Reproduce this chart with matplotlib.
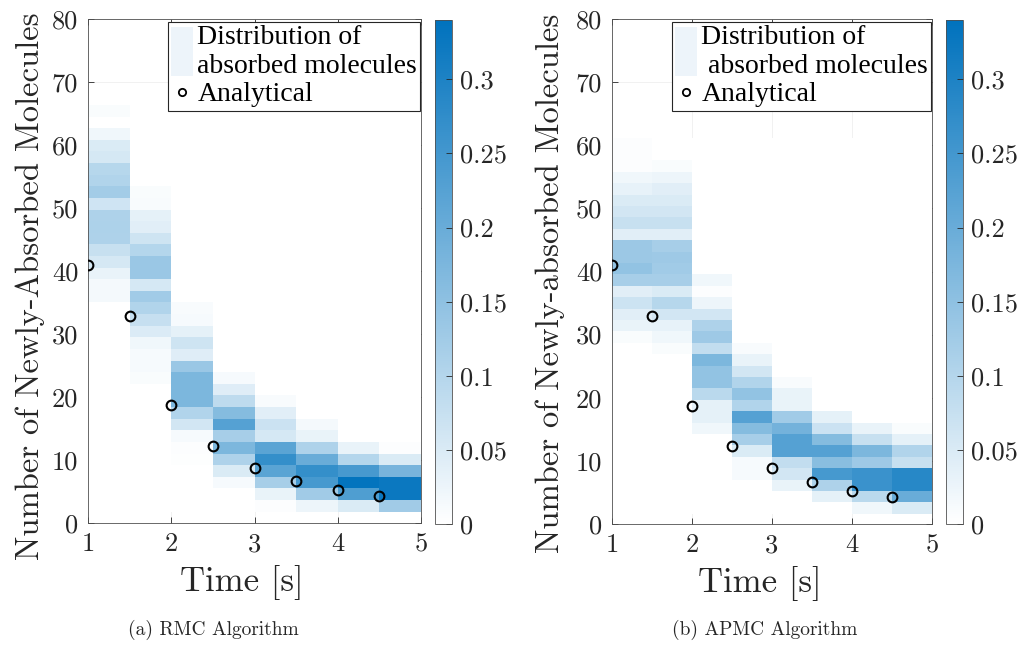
import numpy as np
import matplotlib.pyplot as plt
from matplotlib.colors import LinearSegmentedColormap
from matplotlib.lines import Line2D
from matplotlib.patches import Patch, Rectangle
from matplotlib.legend_handler import HandlerPatch

plt.rcParams['font.family'] = 'cmr10'
plt.rcParams['axes.formatter.use_mathtext'] = True

time_edges = [1.0, 1.5, 2.0, 2.5, 3.0, 3.5, 4.0, 4.5, 5.0]
analytical_t = [1.0, 1.5, 2.0, 2.5, 3.0, 3.5, 4.0, 4.5]
analytical_n = [41.0, 32.9, 18.7, 12.3, 8.8, 6.6, 5.3, 4.35]

# RMC: histogram of absorbed molecules per time slot, bins listed top -> bottom
rmc_top_edge = 66.35
rmc_bin_height = 1.844
rmc_n_bins = 35
rmc_first_bin = [0, 7, 17, 23, 25, 27, 29, 29]
rmc_probs = [
    [0.008, 0, 0.02, 0.05, 0.057, 0.097, 0.104, 0.123, 0.065, 0.108, 0.11,
     0.108, 0.075, 0.056, 0.03, 0.015, 0.015],
    [0.008, 0.01, 0.035, 0.04, 0.066, 0.10, 0.135, 0.135, 0.056, 0.126,
     0.104, 0.077, 0.048, 0.02, 0.012, 0.012, 0.008],
    [0.01, 0.012, 0.035, 0.066, 0.043, 0.135, 0.174, 0.174, 0.174, 0.104,
     0.06, 0.012, 0.005, 0.003],
    [0.012, 0.043, 0.087, 0.163, 0.226, 0.118, 0.175, 0.108, 0.05, 0.012],
    [0.01, 0.04, 0.07, 0.056, 0.22, 0.27, 0.22, 0.118, 0.03, 0.004],
    [0.015, 0.03, 0.108, 0.2, 0.27, 0.247, 0.126, 0.025],
    [0.03, 0.1, 0.245, 0.335, 0.235, 0.05],
    [0.005, 0.05, 0.18, 0.325, 0.325, 0.126],
]

# APMC: same layout
apmc_top_edge = 61.2
apmc_bin_height = 1.806
apmc_n_bins = 33
apmc_first_bin = [0, 2, 12, 18, 21, 24, 25, 25]
apmc_probs = [
    [0.005, 0.005, 0.005, 0.02, 0.032, 0.05, 0.06, 0.075, 0.04, 0.132, 0.132,
     0.145, 0.118, 0.04, 0.068, 0.04, 0.03, 0.008],
    [0.008, 0.025, 0.04, 0.05, 0.06, 0.075, 0.04, 0.118, 0.13, 0.126, 0.118,
     0.05, 0.097, 0.06, 0.032, 0.02, 0.008],
    [0.02, 0.005, 0.025, 0.06, 0.108, 0.13, 0.082, 0.174, 0.145, 0.145,
     0.092, 0.035, 0.035, 0.02],
    [0.01, 0.03, 0.06, 0.104, 0.145, 0.104, 0.226, 0.163, 0.118, 0.05,
     0.012, 0.012],
    [0.01, 0.03, 0.03, 0.126, 0.185, 0.226, 0.226, 0.082, 0.06, 0.03],
    [0.035, 0.07, 0.163, 0.226, 0.157, 0.247, 0.108, 0.035],
    [0.03, 0.075, 0.174, 0.13, 0.262, 0.262, 0.092, 0.02],
    [0.008, 0.035, 0.104, 0.075, 0.287, 0.287, 0.2, 0.05],
]

y_ticks = [0, 10, 20, 30, 40, 50, 60, 70, 80]
x_ticks = [1, 2, 3, 4, 5]
cbar_ticks = [0, 0.05, 0.1, 0.15, 0.2, 0.25, 0.3]
cbar_labels = ['0', '0.05', '0.1', '0.15', '0.2', '0.25', '0.3']
c_max = 0.34

blues = LinearSegmentedColormap.from_list('wb', ['#ffffff', (0.0, 0.447, 0.741)])
ink = '#262626'


def build_grid(first_bin, probs, n_bins):
    grid = np.zeros((n_bins, len(probs)))
    for col, (k0, p) in enumerate(zip(first_bin, probs)):
        grid[k0:k0 + len(p), col] = p
    return grid


class TallPatch(HandlerPatch):
    # stretch the patch over both lines of the two-line label
    def create_artists(self, legend, orig_handle, xdescent, ydescent,
                       width, height, fontsize, trans):
        r = Rectangle((-xdescent, -ydescent - 0.5 * fontsize), width,
                      1.75 * fontsize, facecolor=orig_handle.get_facecolor(),
                      edgecolor='none', transform=trans)
        return [r]


def draw_panel(fig, ax_rect, cb_rect, top_edge, bin_h, n_bins, first_bin,
               probs, ylabel, dist_label, ylab_xy, xlab_xy):
    ax = fig.add_axes(ax_rect)
    y_edges = top_edge - bin_h * np.arange(n_bins + 1)
    grid = build_grid(first_bin, probs, n_bins)
    mesh = ax.pcolormesh(time_edges, y_edges, grid, cmap=blues, vmin=0,
                         vmax=c_max, shading='flat', edgecolors='none',
                         antialiased=False)
    ax.plot(analytical_t, analytical_n, 'o', mfc='none', mec='black',
            mew=1.5, ms=7, zorder=3)

    ax.set_xlim(1, 5)
    ax.set_ylim(0, 80)
    ax.set_xticks(x_ticks)
    ax.set_yticks(y_ticks)
    ax.set_xticklabels([str(t) for t in x_ticks])
    ax.set_yticklabels([str(t) for t in y_ticks])
    ax.tick_params(direction='in', length=4, width=0.6, top=True, right=True,
                   labelsize=19, colors=ink, pad=7)
    ax.set_axisbelow(True)
    ax.grid(True, color='#ececec', lw=0.5)
    for s in ax.spines.values():
        s.set_color('#505050')
        s.set_linewidth(0.6)

    ax.set_xlabel('Time [s]', fontsize=25, color=ink)
    ax.set_ylabel(ylabel, fontsize=23.5, color=ink)
    ax.xaxis.set_label_coords(*xlab_xy)
    ax.yaxis.set_label_coords(*ylab_xy)

    handles = [Patch(facecolor='#edf4fa'),
               Line2D([], [], ls='none', marker='o', mfc='none', mec='black',
                      mew=1.3, ms=7)]
    leg = ax.legend(handles, [dist_label, 'Analytical'], loc='upper right',
                    bbox_to_anchor=(0.998, 0.994), borderaxespad=0,
                    handlelength=0.8, handletextpad=0.15, borderpad=0.12,
                    labelspacing=0.1, markerscale=0.75, fancybox=False,
                    framealpha=1, edgecolor=ink,
                    handler_map={Patch: TallPatch()},
                    prop={'family': 'Liberation Serif', 'size': 20})
    leg.get_frame().set_linewidth(0.8)
    for t in leg.get_texts():
        t.set_linespacing(1.2)
        t.set_color('black')

    cax = fig.add_axes(cb_rect)
    cb = fig.colorbar(mesh, cax=cax)
    cb.set_ticks(cbar_ticks)
    cb.set_ticklabels(cbar_labels)
    cb.ax.tick_params(direction='in', length=4, width=0.6, labelsize=19,
                      colors=ink, pad=6)
    cb.outline.set_edgecolor('#505050')
    cb.outline.set_linewidth(0.6)
    return ax


W, H = 1022, 662
fig = plt.figure(figsize=(W / 100, H / 100), dpi=100)


def frac(x0, y0, x1, y1):
    # pixel box (top-left origin) -> figure fraction rect
    return [x0 / W, 1 - y1 / H, (x1 - x0) / W, (y1 - y0) / H]


draw_panel(fig, frac(88, 19, 421, 523), frac(435, 20, 452, 524),
           rmc_top_edge, rmc_bin_height, rmc_n_bins, rmc_first_bin, rmc_probs,
           'Number of Newly-Absorbed Molecules',
           'Distribution of\nabsorbed molecules', (-0.13, 0.47),
           (0.4625, -0.083))
draw_panel(fig, frac(612, 19, 932, 524), frac(946, 20, 963, 524),
           apmc_top_edge, apmc_bin_height, apmc_n_bins, apmc_first_bin,
           apmc_probs, 'Number of Newly-absorbed Molecules',
           'Distribution of\n absorbed molecules', (-0.147, 0.476),
           (0.4625, -0.083))

fig.text(213 / W, 1 - 630 / H, '(a) RMC Algorithm', ha='center',
         va='center', fontsize=14, color=ink)
fig.text(765 / W, 1 - 630 / H, '(b) APMC Algorithm', ha='center',
         va='center', fontsize=14, color=ink)

fig.savefig('out.png', dpi=100, facecolor='white')
